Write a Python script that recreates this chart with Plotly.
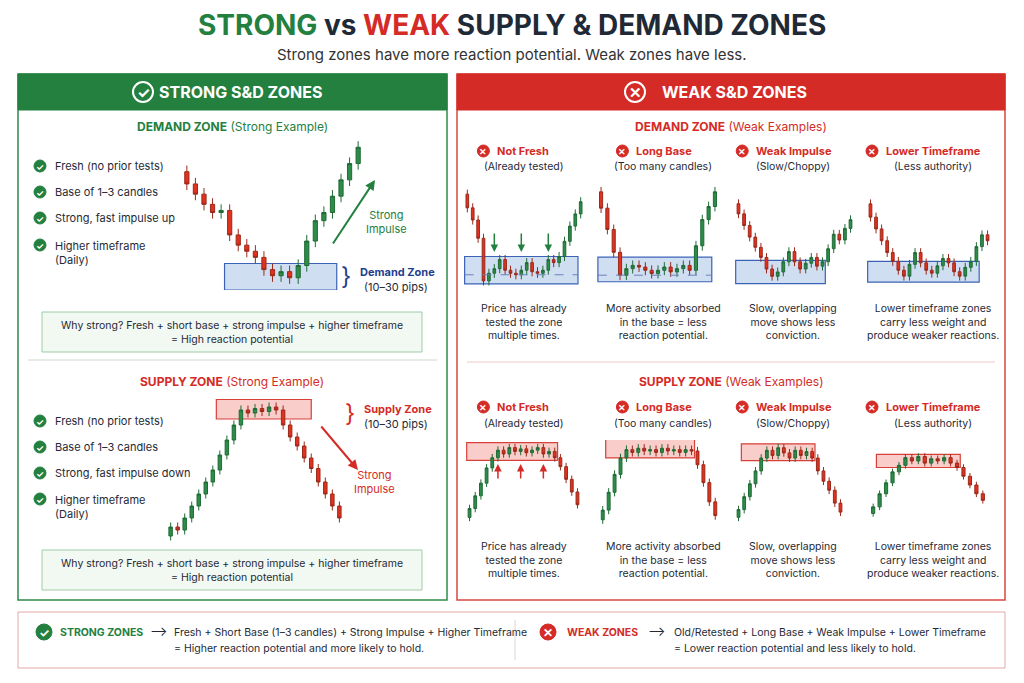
import plotly.graph_objects as go

W, H = 1024, 683
OFF = 8
GREEN = "#23803f"; RED = "#d52b26"; DARK = "#1f2a36"; NAVY = "#1f3f8f"
CUP = "#2e8b4a"; CDN = "#e2311f"

# ---------- data (closes; first value = opening price) ----------
strong_demand = [96, 90, 85, 80, 76, 77, 65, 60, 57, 54, 48, 45, 47, 44, 50, 62, 72, 76, 84, 92, 100, 108]
strong_demand_zone = [38, 51]
strong_supply = [10, 16, 14, 22, 30, 38, 46, 54, 64, 74, 84, 94, 92, 95, 93, 96, 94, 84, 76, 70, 62, 55, 46, 38, 30, 22]
strong_supply_zone = [88, 101]
wd_not_fresh = [97, 88, 80, 68, 40, 45, 48, 54, 47, 45, 44, 47, 52, 46, 45, 47, 54, 52, 56, 66, 76, 84, 92]
wd_long_base = [95, 85, 72, 58, 44, 48, 50, 49, 47, 45, 47, 49, 46, 48, 50, 47, 62, 78, 86, 95]
wd_weak_imp = [95, 88, 80, 72, 65, 58, 50, 45, 48, 55, 62, 55, 50, 54, 58, 52, 55, 64, 74, 70, 78, 84]
wd_lower_tf = [95, 86, 78, 70, 62, 56, 50, 46, 54, 62, 55, 50, 48, 53, 58, 55, 49, 46, 52, 56, 66, 74, 70]
ws_not_fresh = [5, 12, 22, 32, 44, 52, 58, 55, 60, 57, 59, 56, 58, 60, 55, 57, 52, 45, 35, 25, 15]
ws_long_base = [5, 12, 25, 38, 50, 56, 54, 57, 55, 56, 54, 57, 55, 56, 54, 56, 55, 45, 32, 18, 8]
ws_weak_imp = [4, 10, 20, 30, 40, 50, 56, 52, 58, 54, 50, 56, 52, 55, 50, 40, 32, 25, 15, 8]
ws_lower_tf = [4, 10, 22, 32, 42, 48, 55, 52, 56, 50, 54, 52, 55, 50, 46, 38, 30, 22, 16]
wd_zones = [[38, 56], [40, 55], [40, 56], [42, 56]]
ws_zones = [[50, 64], [50, 64], [48, 61], [46, 58]]
wd_titles = ["Not Fresh", "Long Base", "Weak Impulse", "Lower Timeframe"]
wd_subs = ["(Already tested)", "(Too many candles)", "(Slow/Choppy)", "(Less authority)"]
wd_desc = ["Price has already<br>tested the zone<br>multiple times.",
           "More activity absorbed<br>in the base = less<br>reaction potential.",
           "Slow, overlapping<br>move shows less<br>conviction.",
           "Lower timeframe zones<br>carry less weight and<br>produce weaker reactions."]
checks_demand = ["Fresh (no prior tests)", "Base of 1–3 candles", "Strong, fast impulse up", "Higher timeframe<br>(Daily)"]
checks_supply = ["Fresh (no prior tests)", "Base of 1–3 candles", "Strong, fast impulse down", "Higher timeframe<br>(Daily)"]
WICK = 3

FW, FH = W - OFF, H - OFF
def px(x): return (x - OFF) / FW
def py(y): return 1 - (y - OFF) / FH

fig = go.Figure()
shapes, ann = [], []

def text(x, y, t, size=11, color=DARK, bold=False, xanchor="center"):
    if bold: t = "<b>" + t + "</b>"
    ann.append(dict(x=px(x), y=py(y), xref="paper", yref="paper", text=t, showarrow=False,
                    font=dict(size=size, color=color, family="Inter"), xanchor=xanchor, yanchor="middle", align="center" if xanchor=="center" else "left"))

def rect(x0, y0, x1, y1, fill="rgba(0,0,0,0)", line="rgba(0,0,0,0)", lw=1):
    shapes.append(dict(type="rect", xref="paper", yref="paper", x0=px(x0), x1=px(x1), y0=py(y1), y1=py(y0),
                       fillcolor=fill, line=dict(color=line, width=lw), layer="below"))

def icon(x, y, good, rad=7, white=False):
    col = GREEN if good else RED
    shapes.append(dict(type="circle", xref="paper", yref="paper", x0=px(x-rad), x1=px(x+rad), y0=py(y+rad), y1=py(y-rad),
                       fillcolor="rgba(0,0,0,0)" if white else col, line=dict(color="white" if white else col, width=2 if white else 1)))
    text(x, y, "✓" if good else "✕", size=int(rad*1.5), color="white", bold=True)

def arrow(x0, y0, x1, y1, col, w=2):
    ann.append(dict(x=px(x1), y=py(y1), ax=x0 - x1, ay=y0 - y1, xref="paper", yref="paper", axref="pixel", ayref="pixel",
                    showarrow=True, arrowhead=2, arrowsize=1, arrowwidth=w, arrowcolor=col, text=""))

axis_n = [0]
def chart(closes, zone, box, zcol, zx, dashed=None, arrows=None, arrdir=1):
    axis_n[0] += 1
    n = axis_n[0]
    xa, ya = ("x" if n == 1 else f"x{n}"), ("y" if n == 1 else f"y{n}")
    o = closes[:-1]; c = closes[1:]
    hi = [max(a, b) + WICK for a, b in zip(o, c)]
    lo = [min(a, b) - WICK for a, b in zip(o, c)]
    xs = list(range(len(c)))
    fig.add_trace(go.Candlestick(x=xs, open=o, high=hi, low=lo, close=c, xaxis=xa, yaxis=ya, showlegend=False,
                                 increasing=dict(line=dict(color="#1f6b35", width=1), fillcolor=CUP),
                                 decreasing=dict(line=dict(color="#9a2a1a", width=1), fillcolor=CDN), whiskerwidth=0))
    x0, y0, x1, y1 = box
    k = "" if n == 1 else str(n)
    allv = hi + lo
    fig.layout["xaxis" + k] = dict(domain=[px(x0), px(x1)], anchor=ya, visible=False, range=[-0.8, len(c) - 0.2], rangeslider=dict(visible=False), fixedrange=True)
    fig.layout["yaxis" + k] = dict(domain=[py(y1), py(y0)], anchor=xa, visible=False, range=[min(allv) - 3, max(allv) + 3], fixedrange=True)
    fill = "rgba(120,160,215,0.35)" if zcol == "blue" else "rgba(235,90,80,0.3)"
    lc = "#3a63b8" if zcol == "blue" else "#d8403a"
    shapes.append(dict(type="rect", xref=xa, yref=ya, x0=zx[0], x1=zx[1], y0=zone[0], y1=zone[1], fillcolor=fill, line=dict(color=lc, width=1.2), layer="below"))
    if dashed is not None:
        shapes.append(dict(type="line", xref=xa, yref=ya, x0=zx[0], x1=zx[1], y0=dashed, y1=dashed, line=dict(color="#6a83b8", width=1, dash="dash")))
    if arrows:
        col = GREEN if arrdir > 0 else RED
        for i in arrows:
            yv = zone[1] + 3 if arrdir > 0 else zone[0] - 3
            ann.append(dict(x=i, y=yv, xref=xa, yref=ya, ax=0, ay=-20 if arrdir > 0 else 16, showarrow=True,
                            arrowhead=2, arrowwidth=1.5, arrowcolor=col, text=""))

# ---------- frames ----------
rect(18, 74, 447, 600, fill="white", line="#2f8a48", lw=1.5)
rect(18, 74, 447, 110, fill=GREEN, line=GREEN)
rect(457, 74, 1005, 600, fill="white", line="#d9453f", lw=1.5)
rect(457, 74, 1005, 110, fill=RED, line=RED)
rect(18, 612, 1005, 668, fill="white", line="#e3a8a5", lw=1)
shapes.append(dict(type="line", xref="paper", yref="paper", x0=px(28), x1=px(437), y0=py(360), y1=py(360), line=dict(color="#cfd8cf", width=1)))
shapes.append(dict(type="line", xref="paper", yref="paper", x0=px(467), x1=px(995), y0=py(362), y1=py(362), line=dict(color="#f0c8c6", width=1)))
shapes.append(dict(type="line", xref="paper", yref="paper", x0=px(515), x1=px(515), y0=py(620), y1=py(660), line=dict(color="#d8d8d8", width=1)))

# ---------- titles ----------
ann.append(dict(x=px(512), y=py(25), xref="paper", yref="paper", showarrow=False, xanchor="center", yanchor="middle",
                text=f"<b><span style='color:{GREEN}'>STRONG</span> <span style='color:{DARK}'>vs</span> <span style='color:{RED}'>WEAK</span> <span style='color:{DARK}'>SUPPLY &amp; DEMAND ZONES</span></b>",
                font=dict(size=28, family="Inter")))
text(512, 54, "Strong zones have more reaction potential. Weak zones have less.", 15, "#333")
icon(143, 92, True, rad=10, white=True); text(240, 92, "STRONG S&amp;D ZONES", 16, "white", True)
icon(635, 92, False, rad=10, white=True); text(734, 92, "WEAK S&amp;D ZONES", 16, "white", True)

# ---------- strong demand ----------
text(232, 127, f"<b style='color:{GREEN}'>DEMAND ZONE</b> <span style='color:{GREEN}'>(Strong Example)</span>", 12)
for i, t in enumerate(checks_demand):
    yy = [166, 192, 218, 245][i]
    icon(40, yy, True, rad=6)
    text(53, yy + (8 if "<br>" in t else 0), t, 11, DARK, xanchor="left")
chart(strong_demand, strong_demand_zone, (180, 135, 365, 290), "blue", [4.4, 17.5])
text(346, 276, "}", 24, NAVY)
text(358, 272, "Demand Zone", 11, NAVY, True, xanchor="left")
text(362, 287, "(10–30 pips)", 11, DARK, xanchor="left")
arrow(332, 245, 375, 180, GREEN)
text(386, 222, "Strong<br>Impulse", 11, GREEN)
rect(42, 312, 422, 352, fill="#f2f8f2", line="#9fcca5")
text(232, 332, "Why strong? Fresh + short base + strong impulse + higher timeframe<br>= High reaction potential", 10.5, DARK)

# ---------- strong supply ----------
text(232, 381, f"<b style='color:{RED}'>SUPPLY ZONE</b> <span style='color:{RED}'>(Strong Example)</span>", 12)
for i, t in enumerate(checks_supply):
    yy = [421, 447, 473, 499][i]
    icon(40, yy, True, rad=6)
    text(53, yy + (8 if "<br>" in t else 0), t, 11, DARK, xanchor="left")
chart(strong_supply, strong_supply_zone, (165, 398, 345, 545), "red", [6.5, 20])
text(350, 413, "}", 24, RED)
text(362, 409, "Supply Zone", 11, RED, True, xanchor="left")
text(362, 424, "(10–30 pips)", 11, DARK, xanchor="left")
arrow(320, 425, 358, 470, RED)
text(374, 482, "Strong<br>Impulse", 11, RED)
rect(42, 550, 422, 590, fill="#f2f8f2", line="#9fcca5")
text(232, 570, "Why strong? Fresh + short base + strong impulse + higher timeframe<br>= High reaction potential", 10.5, DARK)

# ---------- weak ----------
cols = [524, 663, 793, 933]
boxes_d = [(463, 185, 585, 290), (596, 182, 720, 285), (734, 195, 855, 285), (866, 195, 992, 285)]
boxes_s = [(465, 440, 582, 525), (598, 440, 720, 528), (734, 440, 845, 525), (868, 450, 988, 520)]
wd = [wd_not_fresh, wd_long_base, wd_weak_imp, wd_lower_tf]
ws = [ws_not_fresh, ws_long_base, ws_weak_imp, ws_lower_tf]
zx_d = [[-0.5, 20.5], [-0.5, 17.5], [-0.5, 15.5], [-0.5, 19.5]]
zx_s = [[-0.5, 15.5], [0.5, 15.5], [0.5, 13.5], [0.5, 13.5]]
text(731, 127, f"<b style='color:{RED}'>DEMAND ZONE</b> <span style='color:{RED}'>(Weak Examples)</span>", 12)
text(731, 381, f"<b style='color:{RED}'>SUPPLY ZONE</b> <span style='color:{RED}'>(Weak Examples)</span>", 12)
for j in range(4):
    cx = cols[j]
    for (yh, ys, yd) in [(151, 167, 322), (407, 423, 560)]:
        lw = len(wd_titles[j]) * 3.4
        icon(cx - lw - 10, yh, False, rad=6)
        text(cx - lw + 2, yh, wd_titles[j], 11, RED, True, xanchor="left")
        text(cx, ys, wd_subs[j], 10.5, DARK)
        text(cx, yd, wd_desc[j], 10.5, DARK)
    chart(wd[j], wd_zones[j], boxes_d[j], "blue", zx_d[j], dashed=44 if j < 2 else None,
          arrows=[5, 10, 15] if j == 0 else None, arrdir=1)
    chart(ws[j], ws_zones[j], boxes_s[j], "red", zx_s[j], arrows=[5, 9, 13] if j == 0 else None, arrdir=-1)

# ---------- bottom summary ----------
icon(44, 632, True, rad=8)
text(58, 632, "STRONG ZONES", 10.5, GREEN, True, xanchor="left")
text(158, 631, "⟶", 13, DARK)
text(172, 632, "Fresh + Short Base (1–3 candles) + Strong Impulse + Higher Timeframe", 10.5, DARK, xanchor="left")
text(172, 648, "= Higher reaction potential and more likely to hold.", 10.5, DARK, xanchor="left")
icon(548, 632, False, rad=8)
text(565, 632, "WEAK ZONES", 10.5, RED, True, xanchor="left")
text(656, 631, "⟶", 13, DARK)
text(672, 632, "Old/Retested + Long Base + Weak Impulse + Lower Timeframe", 10.5, DARK, xanchor="left")
text(672, 648, "= Lower reaction potential and less likely to hold.", 10.5, DARK, xanchor="left")

fig.update_layout(width=FW, height=FH, margin=dict(l=0, r=0, t=0, b=0), paper_bgcolor="white", plot_bgcolor="rgba(0,0,0,0)",
                  shapes=shapes, annotations=ann, showlegend=False, font=dict(family="Inter"))
fig.write_html("out.html", config=dict(displayModeBar=False))
